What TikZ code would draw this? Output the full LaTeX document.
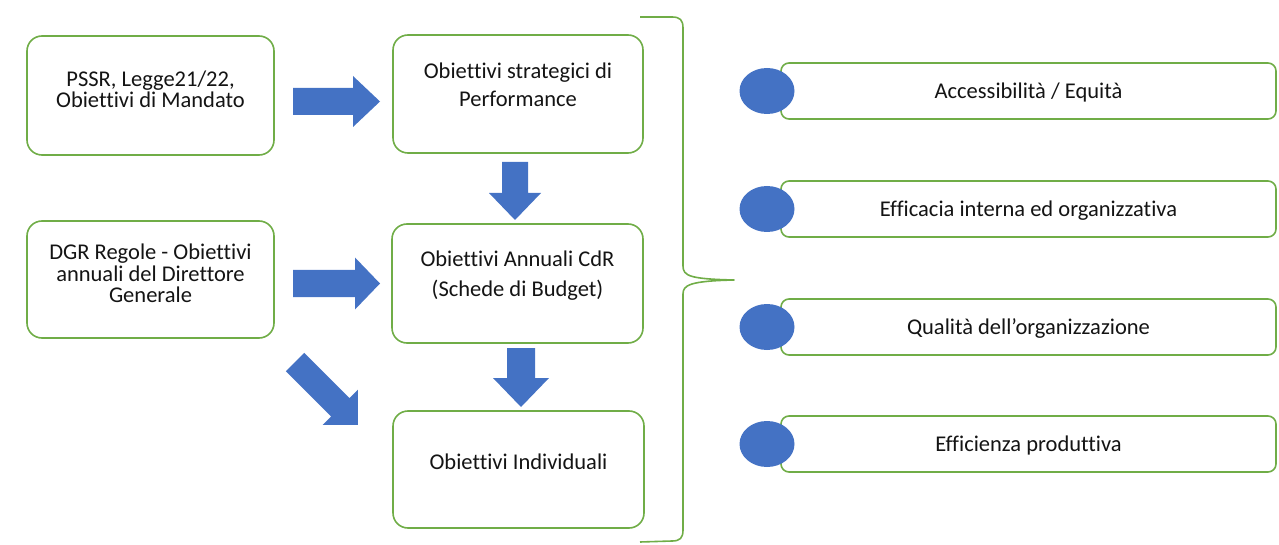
\documentclass[tikz,border=0pt]{standalone}
\usepackage{fontspec}
\usetikzlibrary{shapes.geometric}
\setmainfont{Carlito}[Ligatures={NoCommon}]
\definecolor{gr}{RGB}{112,173,71}
\definecolor{bl}{RGB}{68,114,196}
\definecolor{tx}{RGB}{20,20,20}
\newcommand\blkarrow[7]{% x, y, angle, total length, shaft width, head width, head length
  \fill[bl, shift={(#1,#2)}, rotate=#3]
    (0,-#5/2) -- ({#4-#7},-#5/2) -- ({#4-#7},-#6/2) -- (#4,0)
    -- ({#4-#7},#6/2) -- ({#4-#7},#5/2) -- (0,#5/2) -- cycle;}
\begin{document}
\begin{tikzpicture}[x=1pt,y=-1pt,
  box/.style={draw=gr, line width=1.6pt, rounded corners=15pt, fill=white, inner sep=0pt},
  rbox/.style={draw=gr, line width=1.6pt, rounded corners=8pt, fill=white, inner sep=0pt},
  lbl/.style={anchor=base, inner sep=0pt, text=tx, font=\fontsize{22.5}{24}\selectfont},
  dot/.style={ellipse, fill=bl, minimum width=55pt, minimum height=46pt, inner sep=0pt}]
\useasboundingbox (0,0) rectangle (1279,545);
% left column boxes
\node[box, minimum width=247pt, minimum height=119pt] (A) at (150.5,95.5) {};
\node[box, minimum width=247pt, minimum height=117pt] (C) at (150.5,279.5) {};
% middle column boxes
\node[box, minimum width=250pt, minimum height=118pt] (B) at (518,94) {};
\node[box, minimum width=251pt, minimum height=119pt] (D) at (517.5,283.5) {};
\node[box, minimum width=251pt, minimum height=117pt] (E) at (518.5,469.5) {};
% texts
\node[lbl] (A1) at (150.5,87) {PSSR, Legge21/22,};
\node[lbl] (A2) at (150.5,108) {Obiettivi di Mandato};
\node[lbl] (B1) at (518,79) {Obiettivi strategici di};
\node[lbl] (B2) at (518,107) {Performance};
\node[lbl] (C1) at (150.5,260) {DGR Regole - Obiettivi};
\node[lbl] (C2) at (150.5,281) {annuali del Direttore};
\node[lbl] (C3) at (150.5,302) {Generale};
\node[lbl] (D1) at (517.5,267) {Obiettivi Annuali CdR};
\node[lbl] (D2) at (517.5,296) {(Schede di Budget)};
\node[lbl] (E1) at (518.5,469) {Obiettivi Individuali};
% block arrows
\blkarrow{293}{101.5}{0}{87}{27}{51}{27}
\blkarrow{515}{162}{-90}{58}{26}{52}{27}
\blkarrow{293}{283.5}{0}{87}{27}{52}{25}
\blkarrow{521}{348}{-90}{59}{28}{56}{29}
\blkarrow{295}{362}{-45}{89}{26}{50}{25}
% brace
\draw[gr, line width=1.6pt, line join=round]
  (640,17) -- (672,17) .. controls (680,17) and (683,20) .. (683,28)
  -- (683,266) .. controls (683,276) and (690,279) .. (734,280)
  .. controls (690,281) and (683,285) .. (683,294)
  -- (683,530) .. controls (683,538) and (680,541) .. (672,541) -- (640,542);
% right column
\foreach \i/\cy/\t in {1/91/{Accessibilità / Equità},
                        2/209/{Efficacia interna ed organizzativa},
                        3/327/{Qualità dell’organizzazione},
                        4/444/{Efficienza produttiva}}{
  \node[rbox, minimum width=495pt, minimum height=56pt] (R\i) at (1028.5,\cy) {};
  \node[lbl] (T\i) at (1028.5,\cy+7.5) {\t};
  \node[dot] (P\i) at (767,\cy) {};
}
\end{tikzpicture}
\end{document}
